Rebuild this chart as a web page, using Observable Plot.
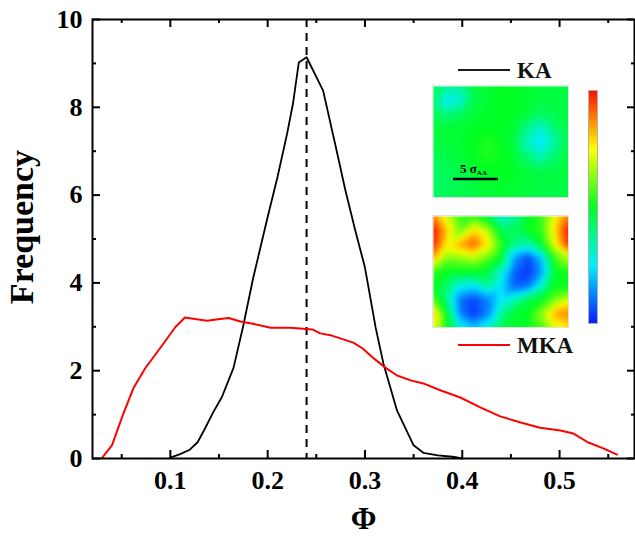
<!DOCTYPE html>
<html><head><meta charset="utf-8">
<script src="https://cdn.jsdelivr.net/npm/d3@7"></script>
<script src="https://cdn.jsdelivr.net/npm/@observablehq/plot@0.6"></script>
<style>
body{margin:0;background:#fff;}
#wrap{position:relative;width:635px;height:539px;overflow:hidden;}
.abs{position:absolute;}
</style></head><body><div id="wrap"></div>
<script>
// ---- data ----
const phiKA  = [0.100,0.110,0.120,0.128,0.136,0.144,0.153,0.165,0.175,0.185,0.200,0.210,0.220,0.226,0.232,0.240,0.257,0.270,0.280,0.290,0.300,0.311,0.319,0.333,0.350,0.360,0.375,0.390,0.400];
const freqKA = [0.02,0.10,0.20,0.37,0.70,1.05,1.40,2.07,3.03,4.10,5.50,6.40,7.40,8.08,9.02,9.14,8.38,7.10,6.10,5.20,4.35,2.98,2.16,1.09,0.30,0.13,0.07,0.04,0.00];
const phiMKA  = [0.030,0.040,0.051,0.062,0.074,0.093,0.105,0.115,0.127,0.138,0.149,0.160,0.172,0.185,0.203,0.223,0.246,0.254,0.266,0.288,0.298,0.309,0.321,0.333,0.347,0.360,0.378,0.398,0.419,0.439,0.460,0.480,0.501,0.514,0.529,0.545,0.559];
const freqMKA = [0.02,0.30,0.98,1.60,2.05,2.62,2.99,3.21,3.17,3.14,3.17,3.20,3.12,3.07,2.98,2.98,2.94,2.85,2.80,2.64,2.50,2.28,2.07,1.89,1.78,1.71,1.55,1.39,1.16,0.96,0.82,0.70,0.64,0.57,0.37,0.23,0.09];
const dashPhi = [0.24];
const xTicks = [0.1,0.2,0.3,0.4,0.5];
const xMinor = [0.05,0.15,0.25,0.35,0.45,0.55];
const yTicks = [0,2,4,6,8,10];
const yMinor = [1,3,5,7,9];
const seriesNames = ["KA","MKA"];

// inset maps (rows top→bottom, columns left→right)
const mapKA = [
 [0.45,0.36,0.38,0.47,0.48,0.50,0.49,0.48,0.47,0.47,0.46],
 [0.42,0.26,0.30,0.45,0.48,0.50,0.50,0.48,0.47,0.46,0.45],
 [0.46,0.40,0.43,0.47,0.49,0.50,0.50,0.47,0.42,0.45,0.46],
 [0.47,0.48,0.48,0.49,0.50,0.50,0.48,0.38,0.30,0.41,0.46],
 [0.46,0.47,0.48,0.50,0.53,0.50,0.46,0.31,0.24,0.36,0.45],
 [0.44,0.46,0.47,0.50,0.53,0.51,0.48,0.40,0.32,0.41,0.46],
 [0.42,0.44,0.46,0.48,0.50,0.50,0.49,0.47,0.45,0.46,0.47],
 [0.43,0.43,0.45,0.47,0.48,0.49,0.48,0.47,0.46,0.46,0.46],
 [0.44,0.44,0.45,0.46,0.47,0.48,0.47,0.46,0.45,0.46,0.46]
];
const mapMKA = [
 [0.88,0.70,0.55,0.55,0.45,0.30,0.36,0.50,0.55,0.74,0.88],
 [1.00,0.80,0.60,0.78,0.68,0.45,0.44,0.50,0.55,0.78,1.00],
 [0.98,0.76,0.84,0.92,0.76,0.55,0.40,0.34,0.48,0.74,0.97],
 [0.84,0.62,0.64,0.68,0.60,0.48,0.15,0.05,0.20,0.56,0.68],
 [0.56,0.50,0.50,0.50,0.46,0.30,0.08,0.03,0.15,0.48,0.52],
 [0.50,0.42,0.28,0.24,0.36,0.25,0.08,0.10,0.30,0.50,0.50],
 [0.60,0.38,0.10,0.05,0.12,0.26,0.34,0.45,0.50,0.62,0.72],
 [0.82,0.48,0.12,0.03,0.12,0.36,0.48,0.50,0.64,0.84,0.88],
 [0.74,0.50,0.28,0.20,0.30,0.45,0.48,0.50,0.56,0.72,0.78]
];
const colorStops = [0,0.25,0.5,0.75,1];
const colorRange = ["#0a1cff","#00f0ff","#00ff20","#ffff00","#ff1000"];

// ---- build ----
const SERIF = "'Liberation Serif','Times New Roman',serif";
const ka = phiKA.map((p,i)=>({phi:p, freq:freqKA[i]}));
const mka = phiMKA.map((p,i)=>({phi:p, freq:freqMKA[i]}));
const X0 = 0.02, X1 = 0.577;
const W = 635, H = 539, mL = 92, mR = 1, mT = 19, mB = 81;
const dxPx = (X1-X0)/(W-mL-mR);
const dyPx = 10/(H-mT-mB);

const chart = Plot.plot({
  width: W, height: H,
  marginLeft: mL, marginRight: mR, marginTop: mT, marginBottom: mB,
  x: {domain: [X0, X1]},
  y: {domain: [0, 10]},
  style: {fontFamily: SERIF, fontWeight: "bold", background: "white", color: "black"},
  marks: [
    Plot.ruleX(dashPhi, {x: d=>d, stroke: "black", strokeWidth: 2, strokeDasharray: "8,6"}),
    Plot.line(ka, {x: "phi", y: "freq", stroke: "black", strokeWidth: 1.8}),
    Plot.line(mka, {x: "phi", y: "freq", stroke: "#ff0000", strokeWidth: 2}),
    // inward ticks
    Plot.ruleX(xTicks, {x: d=>d, y1: 0, y2: 8*dyPx, strokeWidth: 2}),
    Plot.ruleX(xMinor, {x: d=>d, y1: 0, y2: 4*dyPx, strokeWidth: 2}),
    Plot.ruleX(xTicks, {x: d=>d, y1: 10, y2: 10-8*dyPx, strokeWidth: 2}),
    Plot.ruleX(xMinor, {x: d=>d, y1: 10, y2: 10-4*dyPx, strokeWidth: 2}),
    Plot.ruleY(yTicks, {y: d=>d, x1: X0, x2: X0+8*dxPx, strokeWidth: 2}),
    Plot.ruleY(yMinor, {y: d=>d, x1: X0, x2: X0+4*dxPx, strokeWidth: 2}),
    Plot.ruleY(yTicks, {y: d=>d, x1: X1, x2: X1-7*dxPx, strokeWidth: 2}),
    Plot.ruleY(yMinor, {y: d=>d, x1: X1, x2: X1-3*dxPx, strokeWidth: 2}),
    Plot.frame({stroke: "black", strokeWidth: 2}),
    Plot.axisX(xTicks, {anchor: "bottom", tickSize: 0, tickPadding: 12, fontSize: 26, fontWeight: "bold", label: null, tickFormat: d=>d.toFixed(1)}),
    Plot.axisY(yTicks, {anchor: "left", tickSize: 0, tickPadding: 10, fontSize: 26, fontWeight: "bold", label: null}),
    Plot.text(["Frequency"], {text: d=>d, frameAnchor: "left", textAnchor: "middle", dx: -70, dy: -12, rotate: -90, fontSize: 34, fontWeight: "bold"}),
    Plot.text(["Φ"], {text: d=>d, frameAnchor: "bottom", dy: 70, fontSize: 31, fontWeight: "bold"})
  ]
});
const wrap = document.getElementById("wrap");
chart.classList.add("abs");
chart.style.left = "0px"; chart.style.top = "0px";
wrap.appendChild(chart);

function gridData(rows){
  const out = [];
  rows.forEach((r,j)=>r.forEach((v,i)=>out.push({gx: i/(r.length-1), gy: j/(rows.length-1), v})));
  return out;
}
function heat(rows, left, top){
  const p = Plot.plot({
    width: 135, height: 111, margin: 0,
    x: {domain: [0,1], axis: null},
    y: {domain: [0,1], reverse: true, axis: null},
    color: {type: "linear", domain: colorStops, range: colorRange, interpolate: "rgb", clamp: true},
    style: {background: "white"},
    marks: [Plot.raster(gridData(rows), {x: "gx", y: "gy", fill: "v", x1: 0, x2: 1, y1: 0, y2: 1, interpolate: "barycentric", blur: 2, pixelSize: 1})]
  });
  p.classList.add("abs");
  p.style.left = left+"px"; p.style.top = top+"px";
  p.style.outline = "1px solid #e0e0e0";
  wrap.appendChild(p);
}
heat(mapKA, 433, 86);
heat(mapMKA, 433, 216);

// colorbar
const cb = document.createElement("div");
cb.className = "abs";
Object.assign(cb.style, {left: "588px", top: "90px", width: "10px", height: "234px", boxSizing: "border-box", border: "1px solid #b0b0b0",
  background: `linear-gradient(to top, ${colorRange.map((c,i)=>c+" "+(colorStops[i]*100)+"%").join(",")})`});
wrap.appendChild(cb);

// legend + scale bar overlay
const ov = d3.create("svg").attr("width", W).attr("height", H).attr("class","abs")
  .style("left","0px").style("top","0px").style("pointer-events","none")
  .style("font-family", SERIF).style("font-weight","bold");
const leg = [{name: seriesNames[0], color: "#1a1a1a", y: 70}, {name: seriesNames[1], color: "#ff0000", y: 345}];
leg.forEach(l=>{
  ov.append("line").attr("x1",458).attr("x2",510).attr("y1",l.y).attr("y2",l.y).attr("stroke",l.color).attr("stroke-width",2);
  ov.append("text").attr("x",517).attr("y",l.y+7.5).attr("font-size",23).attr("fill","#111").text(l.name);
});
ov.append("line").attr("x1",453).attr("x2",498).attr("y1",179).attr("y2",179).attr("stroke","black").attr("stroke-width",2.5);
const sb = ov.append("text").attr("x",460).attr("y",173).attr("font-size",13).attr("fill","black");
sb.append("tspan").text("5 σ");
sb.append("tspan").attr("font-size",7).attr("dy",2).text("AA");
wrap.appendChild(ov.node());
</script>
</body></html>
